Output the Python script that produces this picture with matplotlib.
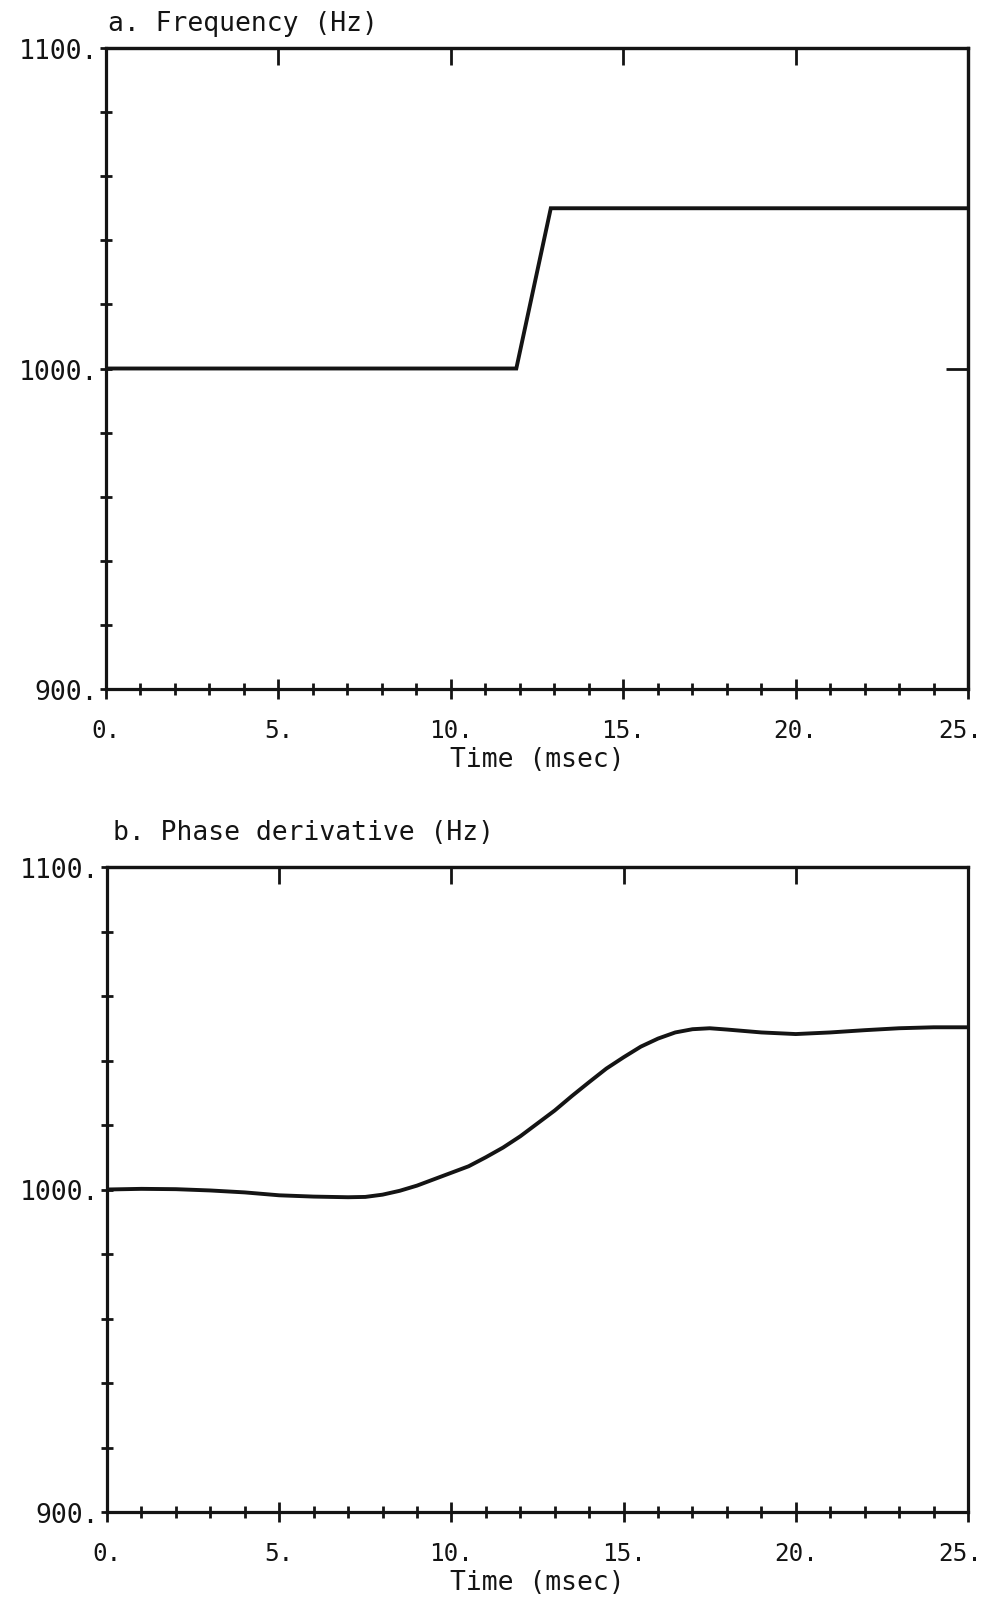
import matplotlib
matplotlib.use("Agg")
import matplotlib.pyplot as plt
import matplotlib.transforms as mtransforms
import numpy as np

# ---- data ----
freq_t = [0.0, 11.9, 12.9, 25.0]
freq_hz = [1000.0, 1000.0, 1050.0, 1050.0]

phase_t = [0, 1, 2, 3, 4, 5, 6, 7, 7.5, 8, 8.5, 9, 9.5, 10, 10.5, 11, 11.5, 12,
           12.5, 13, 13.5, 14, 14.5, 15, 15.5, 16, 16.5, 17, 17.5, 18, 19, 20,
           21, 22, 23, 24, 25]
phase_hz = [1000.0, 1000.2, 1000.1, 999.7, 999.1, 998.2, 997.8, 997.6, 997.7,
            998.4, 999.6, 1001.2, 1003.2, 1005.2, 1007.2, 1010.0, 1013.0,
            1016.5, 1020.5, 1024.5, 1029.0, 1033.3, 1037.5, 1041.0, 1044.3,
            1046.8, 1048.7, 1049.7, 1050.0, 1049.6, 1048.7, 1048.2, 1048.7,
            1049.4, 1050.0, 1050.3, 1050.3]

x_ticks = [0, 5, 10, 15, 20, 25]
x_labels = ["0.", "5.", "10.", "15.", "20.", "25."]
y_ticks = [900, 1000, 1100]
y_labels = ["900.", "1000.", "1100."]
titles = ["a. Frequency (Hz)", "b. Phase derivative (Hz)"]
xlabel = "Time (msec)"

FONT = "DejaVu Sans Mono"
INK = "#141414"

W, H = 990, 1608
fig = plt.figure(figsize=(W / 100, H / 100), dpi=100)


def make_axes(rect_px, t, v, title, title_px, right_tick):
    left, top, right, bottom = rect_px
    ax = fig.add_axes([left / W, 1 - bottom / H, (right - left) / W, (bottom - top) / H])
    ax.plot(t, v, color=INK, lw=2.8, solid_joinstyle="miter")
    ax.set_xlim(0, 25)
    ax.set_ylim(900, 1100)
    for s in ax.spines.values():
        s.set_linewidth(2.3)
        s.set_color(INK)

    ax.set_xticks(x_ticks)
    ax.set_xticklabels(x_labels, fontfamily=FONT, fontsize=17.5)
    ax.set_xticks(np.arange(0, 26, 1), minor=True)
    ax.set_yticks(y_ticks)
    ax.set_yticklabels(y_labels, fontfamily=FONT, fontsize=19)
    ax.set_yticks(np.arange(900, 1101, 20), minor=True)

    ax.tick_params(axis="x", which="major", direction="inout", length=14, width=2.0,
                   pad=14, color=INK, labelcolor=INK)
    ax.tick_params(axis="x", which="minor", direction="inout", length=8, width=2.0,
                   color=INK)
    ax.tick_params(axis="y", which="both", direction="inout", length=9, width=2.0,
                   pad=1, color=INK, labelcolor=INK)
    labs = ax.get_xticklabels()
    off_last = mtransforms.ScaledTranslation(-8 / 100, 0, fig.dpi_scale_trans)
    labs[-1].set_transform(labs[-1].get_transform() + off_last)

    ax.set_xlabel(xlabel, fontfamily=FONT, fontsize=19, color=INK, labelpad=3)

    sec_x = ax.secondary_xaxis("top")
    sec_x.set_xticks([5, 10, 15, 20])
    sec_x.set_xticklabels([])
    sec_x.tick_params(direction="in", length=12, width=2.0, color=INK)
    sec_x.spines["top"].set_linewidth(2.3)
    sec_x.spines["top"].set_color(INK)

    if right_tick:
        sec_y = ax.secondary_yaxis("right")
        sec_y.set_yticks([1000])
        sec_y.set_yticklabels([])
        sec_y.tick_params(direction="in", length=16, width=2.0, color=INK)
        sec_y.spines["right"].set_linewidth(2.3)
        sec_y.spines["right"].set_color(INK)

    fig.text(title_px[0] / W, 1 - title_px[1] / H, title, fontfamily=FONT,
             fontsize=19, color=INK, ha="left", va="center")
    return ax


make_axes((106, 49, 968, 690), freq_t, freq_hz, titles[0], (108, 24), True)
make_axes((107, 868, 968, 1513), phase_t, phase_hz, titles[1], (113, 833), False)

fig.savefig("out.png", dpi=100, facecolor="white")
